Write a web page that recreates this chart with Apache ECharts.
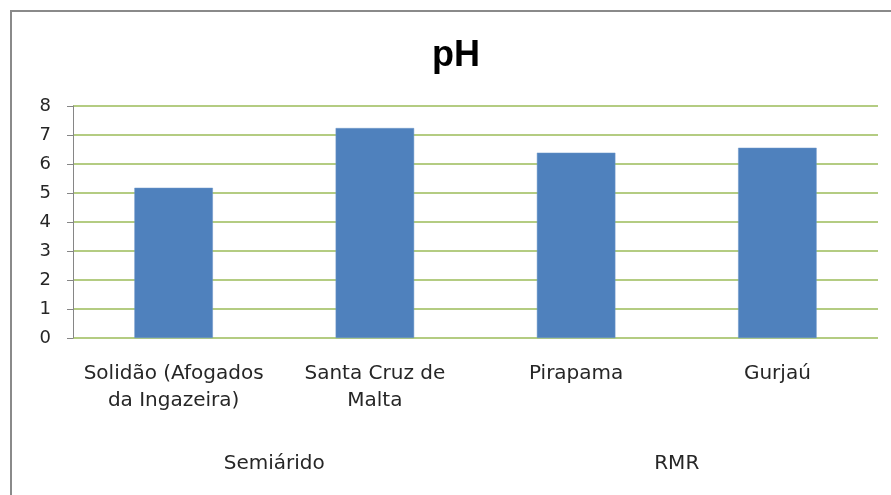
<!DOCTYPE html>
<html>
<head>
<meta charset="utf-8">
<script src="https://cdn.jsdelivr.net/npm/echarts@6/dist/echarts.min.js"></script>
<style>
  html, body { margin: 0; padding: 0; background: #fff; }
  #chart { width: 891px; height: 495px; }
</style>
</head>
<body>
<div id="chart"></div>
<script>
// dados do gráfico
const categorias = ['Solidão (Afogados\nda Ingazeira)', 'Santa Cruz de\nMalta', 'Pirapama', 'Gurjaú'];
const grupos = ['Semiárido', 'RMR'];
const valoresPH = [5.18, 7.24, 6.39, 6.56];
const yTicks = [0, 1, 2, 3, 4, 5, 6, 7, 8];

const chart = echarts.init(document.getElementById('chart'));

const labelFont = { fontFamily: 'DejaVu Sans', color: '#262626' };

chart.setOption({
    animation: false,
    backgroundColor: '#fff',
    graphic: [
        {
            type: 'rect',
            shape: { x: 11, y: 11, width: 1000, height: 1000 },
            style: { fill: 'none', stroke: '#8a8a8a', lineWidth: 2 },
            silent: true
        },
        {
            type: 'text',
            x: 456,
            y: 56,
            style: {
                text: 'pH',
                fontFamily: 'Liberation Sans',
                fontWeight: 'bold',
                fontSize: 36,
                fill: '#000',
                align: 'center',
                verticalAlign: 'middle'
            }
        }
    ],
    grid: { left: 73, right: 13, top: 106, bottom: 157 },
    xAxis: [
        {
            type: 'category',
            data: categorias,
            axisLine: { show: false },
            axisTick: { show: false },
            axisLabel: {
                ...labelFont,
                fontSize: 20,
                lineHeight: 27,
                margin: 22,
                interval: 0
            }
        },
        {
            type: 'category',
            data: grupos,
            position: 'bottom',
            offset: 104,
            axisLine: { show: false },
            axisTick: { show: false },
            axisLabel: {
                ...labelFont,
                fontSize: 20,
                lineHeight: 27,
                margin: 8,
                interval: 0
            }
        }
    ],
    yAxis: {
        type: 'value',
        min: yTicks[0],
        max: yTicks[yTicks.length - 1],
        interval: 1,
        axisLine: { show: true, lineStyle: { color: '#868686', width: 1 } },
        axisTick: { show: true, length: 6, lineStyle: { color: '#868686' } },
        axisLabel: { ...labelFont, fontSize: 18, margin: 22 },
        splitLine: { show: true, lineStyle: { color: '#9BBB59', width: 1.5 } }
    },
    series: [
        {
            type: 'bar',
            xAxisIndex: 0,
            data: valoresPH,
            barWidth: '39%',
            itemStyle: { color: '#4F81BD', borderColor: '#6d96c8', borderWidth: 0.5 }
        }
    ]
});
</script>
</body>
</html>
